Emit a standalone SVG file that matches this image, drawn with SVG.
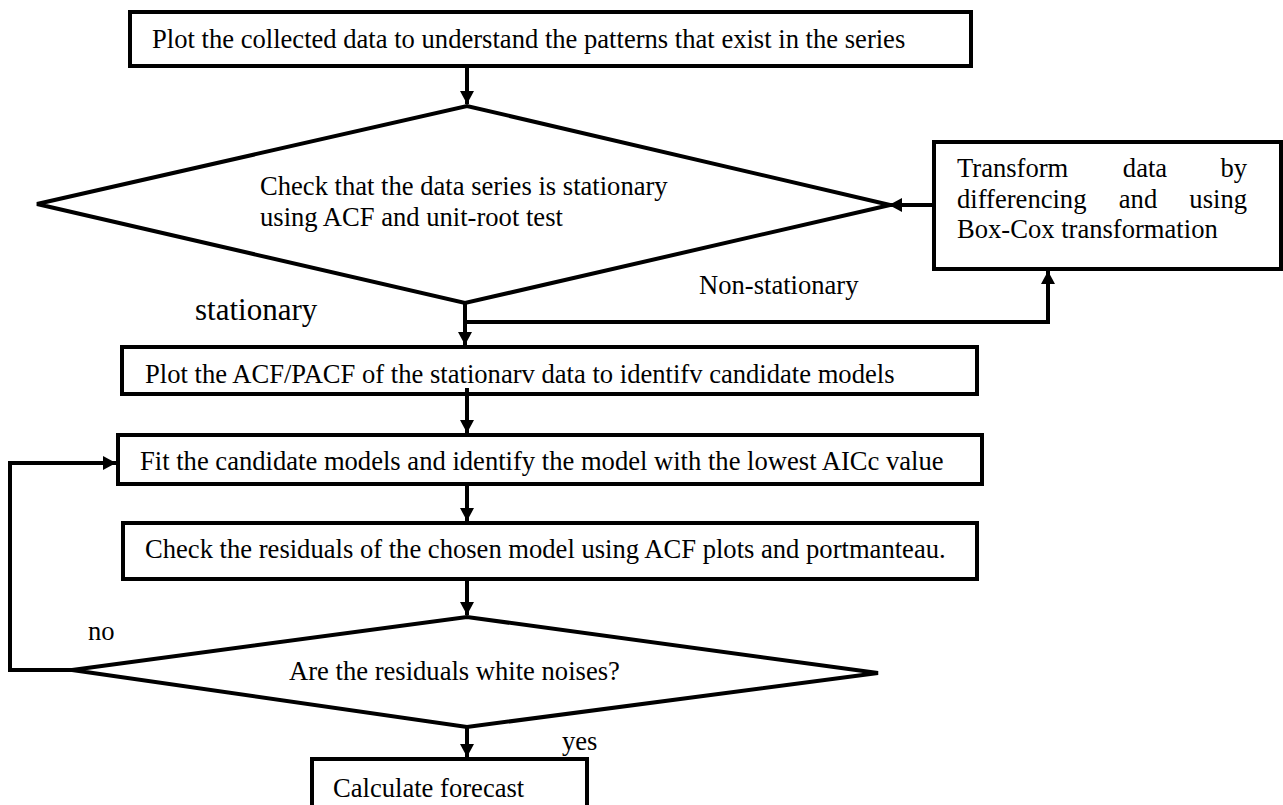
<svg xmlns="http://www.w3.org/2000/svg" width="1283" height="805" viewBox="0 0 1283 805">
<style>
.box{fill:#fff;stroke:#000;stroke-width:4}
.dia{fill:#fff;stroke:#000;stroke-width:4;stroke-linejoin:miter}
.t{font-family:"Liberation Serif","Times New Roman",serif;font-size:26.6px;fill:#000}
.big{font-size:31px}
.con{fill:none;stroke:#000;stroke-width:4}
</style>
<defs>
<marker id="ah" markerUnits="userSpaceOnUse" markerWidth="14" markerHeight="14" refX="13" refY="7" orient="auto">
<path d="M0,0 L13,7 L0,14 z" fill="#000"/>
</marker>
</defs>
<rect width="1283" height="805" fill="#fff"/>
<g id="connectors">
<path class="con" d="M467,66 V104" marker-end="url(#ah)"/>
<path class="con" d="M465,303 V345" marker-end="url(#ah)"/>
<path class="con" d="M465,322 H1048 V271" marker-end="url(#ah)"/>
<path class="con" d="M934,205 H889" marker-end="url(#ah)"/>
<path class="con" d="M467,390 V433" marker-end="url(#ah)"/>
<path class="con" d="M467,484 V521" marker-end="url(#ah)"/>
<path class="con" d="M467,576 V615" marker-end="url(#ah)"/>
<path class="con" d="M467,727 V757" marker-end="url(#ah)"/>
<path class="con" d="M74,670 H10 V463 H116" marker-end="url(#ah)"/>
</g>
<g id="n1">
<rect class="box" x="130" y="12" width="841" height="54"/>
<text class="t" x="152" y="48">Plot the collected data to understand the patterns that exist in the series</text>
</g>
<g id="n2">
<polygon class="dia" points="37,204 467,106 890,205 465,303"/>
<text class="t" x="260" y="195">Check that the data series is stationary</text>
<text class="t" x="260" y="226">using ACF and unit-root test</text>
</g>
<g id="n3">
<rect class="box" x="934" y="142" width="347" height="127"/>
<text class="t" x="957" y="177">Transform</text>
<text class="t" x="1145" y="177" text-anchor="middle">data</text>
<text class="t" x="1247" y="177" text-anchor="end">by</text>
<text class="t" x="957" y="208">differencing</text>
<text class="t" x="1138" y="208" text-anchor="middle">and</text>
<text class="t" x="1247" y="208" text-anchor="end">using</text>
<text class="t" x="957" y="238">Box-Cox transformation</text>
</g>
<g id="labels">
<text class="t big" x="195" y="320">stationary</text>
<text class="t" x="699" y="294">Non-stationary</text>
<text class="t" x="88" y="640">no</text>
<text class="t" x="562" y="750">yes</text>
</g>
<g id="n4">
<rect class="box" x="122" y="347" width="855" height="47"/>
<text class="t" x="145" y="383">Plot the ACF/PACF of the stationarv data to identifv candidate models</text>
</g>
<path class="con" d="M467,388 V395"/>
<g id="n5">
<rect class="box" x="118" y="435" width="864" height="49"/>
<text class="t" x="140" y="470">Fit the candidate models and identify the model with the lowest AICc value</text>
</g>
<g id="n6">
<rect class="box" x="123" y="523" width="854" height="56"/>
<text class="t" x="145" y="558">Check the residuals of the chosen model using ACF plots and portmanteau.</text>
</g>
<g id="n7">
<polygon class="dia" points="72,670 467,617 878,673 467,727"/>
<text class="t" x="289" y="680">Are the residuals white noises?</text>
</g>
<g id="n8">
<rect class="box" x="312" y="759" width="275" height="70"/>
<text class="t" x="333" y="797">Calculate forecast</text>
</g>
</svg>
